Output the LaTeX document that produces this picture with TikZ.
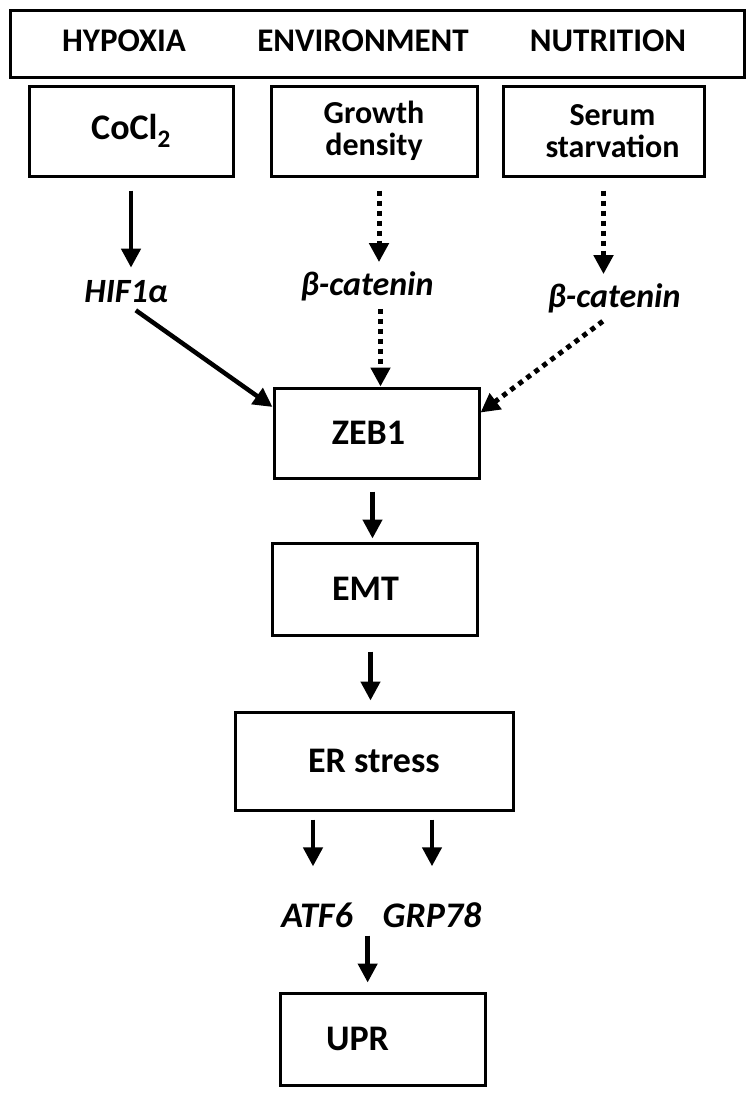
\documentclass[tikz,border=0pt]{standalone}
\usepackage{fontspec}
\setmainfont{Carlito}
\usetikzlibrary{positioning,arrows.meta,calc}

\begin{document}
\begin{tikzpicture}[x=1pt, y=-1pt]
    \tikzstyle{box} = [rectangle, draw=black, line width=3pt, minimum width=205pt, minimum height=90pt, align=center, font=\fontsize{36}{29}\selectfont\bfseries, inner sep=0pt]
    \tikzstyle{head} = [font=\fontsize{33}{36}\selectfont\bfseries, inner sep=0pt]
    \tikzstyle{gene} = [font=\fontsize{36}{38}\selectfont\bfseries\itshape, inner sep=0pt]
    \tikzstyle{arr} = [-{Triangle[length=19pt,width=19pt]}, line width=4.5pt]
    \tikzstyle{dotarr} = [arr, line width=5pt, dash pattern=on 5pt off 5pt]

    \useasboundingbox (0,0) rectangle (755,1096);

    % top row
    \node [box, minimum width=734pt, minimum height=67pt] (cat) at (377,43.5) {};
    \node [head] (hypoxia) at (124,41) {HYPOXIA};
    \node [head] (environment) at (363,41) {ENVIRONMENT};
    \node [head] (nutrition) at (608,41) {NUTRITION};

    \node [box, minimum width=204pt] (cocl) at (131,131) {CoCl\textsubscript{2}};
    \node [box, minimum width=206pt, font=\fontsize{32}{32}\selectfont\bfseries] (growth) at (374,131) {Growth\\density};
    \node [box, minimum width=201pt, font=\fontsize{32}{32}\selectfont\bfseries] (serum) at (603.5,131) {\hspace*{18pt}Serum\\\hspace*{18pt}starvation};

    \node [gene, font=\fontsize{34}{38}\selectfont\bfseries\itshape] (hif) at (126,292) {HIF1α};
    \node [gene, font=\fontsize{34}{38}\selectfont\bfseries\itshape] (bcat1) at (367,286) {β-catenin};
    \node [gene, font=\fontsize{34}{38}\selectfont\bfseries\itshape] (bcat2) at (614,298) {β-catenin};

    % main column
    \node [box, label={[font=\fontsize{36}{38}\selectfont\bfseries, xshift=-8pt]center:ZEB1}] (zeb) at (376.5,433) {};
    \node [box, minimum height=92pt, label={[font=\fontsize{36}{38}\selectfont\bfseries, xshift=-9pt]center:EMT}] (emt) at (374.5,589) {};
    \node [box, minimum width=278pt, minimum height=98pt] (er) at (374,761) {ER stress};
    \node [gene] (atf) at (317,915) {ATF6};
    \node [gene] (grp) at (432,915) {GRP78};
    \node [box, minimum height=92pt, label={[font=\fontsize{36}{38}\selectfont\bfseries, xshift=-25pt]center:UPR}] (upr) at (382.5,1039) {};
    \coordinate (mid) at ($(atf.south east)!0.5!(grp.south west)$);

    \draw [arr, shorten <=13pt, shorten >=13pt] (cocl.south) -- (cocl.south |- hif.north);
    \draw [dotarr, shorten <=13pt, shorten >=9pt] ([xshift=5pt]growth.south) -- ([xshift=5pt]growth.south |- bcat1.north);
    \draw [dotarr, shorten <=13pt, shorten >=9pt] (serum.south) -- (serum.south |- bcat2.north);
    \draw [dotarr, shorten <=8pt] ([xshift=4pt]zeb.north |- bcat1.south) -- ([xshift=4pt]zeb.north);
    \draw [arr, shorten <=12pt] (hif.south) -- ($(zeb.north west)!0.22!(zeb.south west)$);
    \draw [dotarr, shorten <=14pt] (bcat2.south) -- ($(zeb.north east)!0.28!(zeb.south east)$);
    \draw [arr, shorten <=12pt, shorten >=3pt] ([xshift=-4pt]zeb.south) -- ([xshift=-4pt]zeb.south |- emt.north);
    \draw [arr, shorten <=15pt, shorten >=10pt] ([xshift=-4pt]emt.south) -- ([xshift=-4pt]emt.south |- er.north);
    \draw [arr, shorten <=8pt, shorten >=36pt] ([xshift=-4pt]er.south -| atf) -- ([xshift=-4pt]atf.north);
    \draw [arr, shorten <=8pt, shorten >=36pt] (er.south -| grp) -- (grp.north);
    \draw [arr, shorten <=8pt, shorten >=9pt] (mid) -- (mid |- upr.north);
\end{tikzpicture}
\end{document}
